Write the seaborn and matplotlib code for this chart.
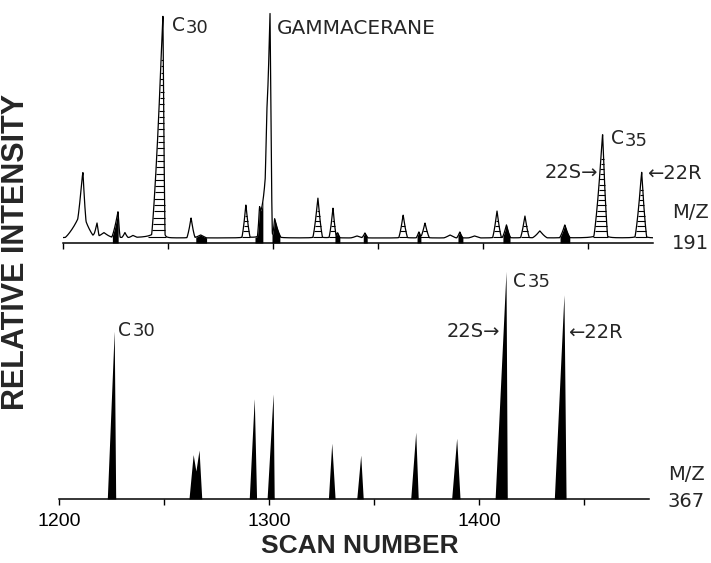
import numpy as np
import matplotlib
matplotlib.use("Agg")
import matplotlib.pyplot as plt
import seaborn as sns

# ---- m/z 191 trace (upper panel) ----
# peak apex (scan number), height above the trace baseline, left / right half base width (scans)
top_center = [1209.0, 1209.5, 1216.2, 1219.5, 1226.2, 1229.5, 1233.3, 1247.6, 1261.0, 1265.5,
              1287.1, 1293.6, 1297.0, 1298.6, 1300.8, 1321.4, 1328.6, 1330.8, 1340.0, 1343.8,
              1362.0, 1369.5, 1372.4, 1384.3, 1389.0, 1396.0, 1406.7, 1411.2, 1420.0, 1427.1,
              1439.0, 1457.0, 1475.6]
top_height = [26, 42, 14, 5, 26, 5, 2, 222, 20, 3,
              33, 30, 75, 209, 18, 40, 30, 5, 2, 5,
              23, 6, 15, 3, 6, 2, 27, 13, 22, 7,
              13, 104, 66]
top_wl = [8.0, 2.5, 2.0, 4.0, 3.0, 1.5, 2.0, 5.4, 2.0, 3.0,
          1.9, 1.0, 3.0, 2.3, 1.0, 2.4, 1.9, 1.2, 3.0, 1.5,
          2.1, 1.3, 2.1, 3.0, 1.5, 3.0, 2.1, 2.0, 2.1, 3.5,
          2.5, 4.2, 3.2]
top_wr = [6.0, 1.5, 1.0, 4.0, 1.0, 1.5, 2.0, 1.0, 1.9, 3.0,
          2.0, 3.0, 2.2, 1.1, 3.0, 2.2, 1.6, 1.2, 3.0, 1.5,
          2.1, 1.3, 2.1, 3.0, 1.5, 3.0, 2.1, 2.0, 2.1, 3.5,
          2.5, 2.4, 2.4]
top_hatched = [1247.6, 1287.1, 1321.4, 1328.6, 1362.0, 1372.4, 1406.7, 1420.0, 1457.0, 1475.6]
top_fill_start = [1223.5, 1263.2, 1291.4, 1299.5, 1329.5, 1343.0, 1368.6, 1388.1, 1409.5, 1436.7]
top_fill_end = [1226.3, 1268.4, 1295.2, 1303.3, 1331.9, 1344.9, 1370.5, 1390.5, 1412.9, 1441.4]
top_base = 5

# ---- m/z 367 trace (lower panel) ----
bot_center = [1226.3, 1263.9, 1266.7, 1293.0, 1302.0, 1329.9, 1343.7, 1369.9, 1389.4, 1412.9, 1440.5]
bot_height = [169, 44.5, 49, 101, 106, 56, 44, 67, 61, 228, 205]
bot_wl = [3.3, 2.0, 3.5, 2.4, 2.9, 1.6, 1.9, 2.4, 2.4, 5.2, 4.6]
bot_wr = [0.7, 3.5, 1.3, 1.1, 0.5, 1.6, 1.2, 1.2, 1.6, 0.6, 1.0]

ticks = [1200, 1250, 1300, 1350, 1400, 1450]
tick_labels = ["1200", "", "1300", "", "1400", ""]

sns.set_theme(style="white")
plt.rcParams["font.family"] = ["Liberation Sans", "DejaVu Sans"]
LABEL_FONT = ["DejaVu Sans"]

x = np.linspace(1200, 1481, 6000)


def peak_sum(x, centers, heights, wl, wr):
    # sharp-topped peaks: near triangular body with a soft foot
    y = np.zeros_like(x)
    for c, h, a, b in zip(centers, heights, wl, wr):
        d = x - c
        u = np.abs(d) / np.where(d < 0, a, b)
        body = np.clip(1 - u, 0, None) ** 1.2
        y += h * (0.85 * body + 0.15 / (1 + 9 * u ** 2))
    return y


def triangles(x, centers, heights, wl, wr):
    y = np.zeros_like(x)
    for c, h, a, b in zip(centers, heights, wl, wr):
        d = x - c
        w = np.where(d < 0, a, b)
        y = np.maximum(y, h * np.clip(1 - np.abs(d) / w, 0, None))
    return y


def style_axis(ax, ymax, labels):
    ax.set_xlim(1200, 1481)
    ax.set_ylim(0, ymax)
    for s in ["top", "left", "right"]:
        ax.spines[s].set_visible(False)
    ax.spines["bottom"].set_color("black")
    ax.spines["bottom"].set_linewidth(1.1)
    ax.set_yticks([])
    ax.set_xticks(ticks)
    ax.set_xticklabels(labels if labels else [""] * len(ticks))
    ax.tick_params(axis="x", direction="out", length=4, width=1, color="black",
                   pad=6, labelsize=14, labelcolor="black", bottom=True)
    ax.set_xlabel("")
    ax.set_ylabel("")
    ax.patch.set_alpha(0)


def label(ax, x0, y0, s, ha="left", size=14):
    ax.text(x0, y0, s, fontsize=size, ha=ha, va="baseline", clip_on=False, family=LABEL_FONT)


def sub_label(ax, x0, y0, digits, dx, dy):
    label(ax, x0, y0, "C", size=13.5)
    label(ax, x0 + dx, y0 - dy, digits, size=13)


fig = plt.figure(figsize=(7.11, 5.63), dpi=100)
ax_top = fig.add_axes([63 / 711, 320 / 563, 590 / 711, 235 / 563])
ax_bot = fig.add_axes([59 / 711, 64 / 563, 590 / 711, 232 / 563])

# upper trace
y_top = top_base + peak_sum(x, top_center, top_height, top_wl, top_wr)
for a, b in zip(top_fill_start, top_fill_end):
    ax_top.fill_between(x, 0, y_top, where=(x >= a) & (x <= b), color="black", lw=0)
sns.lineplot(x=x, y=y_top, ax=ax_top, color="black", lw=0.9, sort=False)

for c in top_hatched:
    i = top_center.index(c)
    step = 6.3 if top_height[i] > 150 else 5.2
    sel = (x >= c - 1.3 * top_wl[i]) & (x <= c + 1.3 * top_wr[i])
    xs, ys = x[sel], y_top[sel]
    k0 = int(np.argmax(ys))
    for lev in np.arange(top_base + 1.5, ys[k0], step):
        lft = k0
        while lft > 0 and ys[lft - 1] >= lev:
            lft -= 1
        rgt = k0
        while rgt < len(ys) - 1 and ys[rgt + 1] >= lev:
            rgt += 1
        if xs[rgt] - xs[lft] > 1.0:
            ax_top.hlines(lev, xs[lft], xs[rgt], color="black", lw=0.8)

style_axis(ax_top, 235, None)

# lower trace
y_bot = triangles(x, bot_center, bot_height, bot_wl, bot_wr)
ax_bot.fill_between(x, 0, y_bot, color="black", lw=0)
style_axis(ax_bot, 232, tick_labels)

# annotations, upper panel
sub_label(ax_top, 1251.9, 212.3, "30", 6.3, 2.6)
label(ax_top, 1301.9, 208.7, "GAMMACERANE", size=14.5)
sub_label(ax_top, 1461.0, 99, "35", 6.3, 2)
label(ax_top, 1454.8, 65, "22S\u2192", ha="right")
label(ax_top, 1478.1, 64, "\u219022R")
label(ax_top, 1490, 25, "M/Z")
label(ax_top, 1490, -6, "191")

# annotations, lower panel
sub_label(ax_bot, 1228.1, 163, "30", 6.8, 0)
sub_label(ax_bot, 1416.2, 212.3, "35", 6.8, 0)
label(ax_bot, 1410.0, 161.7, "22S\u2192", ha="right")
label(ax_bot, 1442.4, 161, "\u219022R")
label(ax_bot, 1490, 19, "M/Z")
label(ax_bot, 1490, -7.7, "367")

fig.text(16 / 711, 1 - 252 / 563, "RELATIVE INTENSITY", rotation=90, fontsize=22,
         fontweight="bold", ha="center", va="center")
fig.text(360 / 711, 1 - 546 / 563, "SCAN NUMBER", fontsize=19, fontweight="bold",
         ha="center", va="center")

fig.savefig("out.png", dpi=100)
